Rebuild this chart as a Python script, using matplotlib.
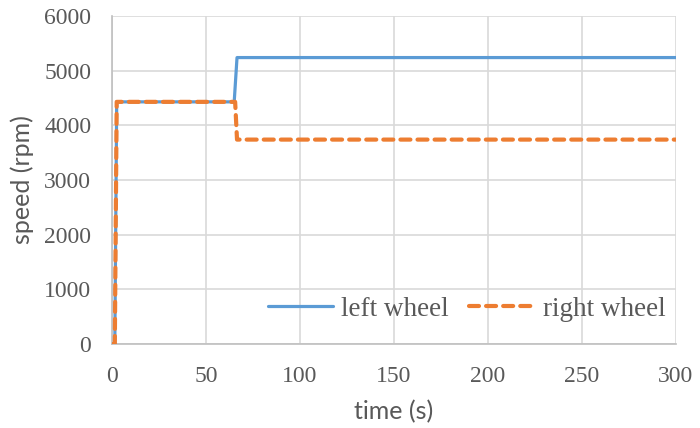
import matplotlib
matplotlib.use("Agg")
import matplotlib.pyplot as plt

# Wheel speed profiles (time in s, speed in rpm)
time_left = [0.5, 1.5, 2.5, 65.0, 66.5, 300.0]
speed_left = [0, 0, 4430, 4430, 5240, 5240]

time_right = [0.5, 1.5, 2.5, 65.5, 66.5, 300.0]
speed_right = [0, 0, 4430, 4430, 3740, 3740]

x_ticks = [0, 50, 100, 150, 200, 250, 300]
y_ticks = [0, 1000, 2000, 3000, 4000, 5000, 6000]

text_color = "#595959"
grid_color = "#D9D9D9"

fig = plt.figure(figsize=(7.0, 4.28), dpi=100)
ax = fig.add_axes([0.16, 0.196, 0.8057, 0.7666])

ax.plot(time_left, speed_left, color="#5B9BD5", linewidth=2.3,
        solid_capstyle="round", solid_joinstyle="round", label="left wheel", zorder=3)
ax.plot(time_right, speed_right, color="#ED7D31", linewidth=3.0,
        dashes=(2.4, 1.7), dash_capstyle="round", dash_joinstyle="round",
        label="right wheel", zorder=4)

ax.set_xlim(0, 300)
ax.set_ylim(0, 6000)
ax.set_xticks(x_ticks)
ax.set_yticks(y_ticks)
ax.grid(True, color=grid_color, linewidth=1.2, zorder=0)
ax.set_axisbelow(True)

for side in ("top", "right"):
    ax.spines[side].set_visible(False)
for side in ("left", "bottom"):
    ax.spines[side].set_color("#BFBFBF")
    ax.spines[side].set_linewidth(1.2)

ax.tick_params(axis="y", length=0, pad=15, labelcolor=text_color)
ax.tick_params(axis="x", length=0, pad=16, labelcolor=text_color)
for lab in ax.get_xticklabels() + ax.get_yticklabels():
    lab.set_fontfamily("Liberation Serif")
    lab.set_fontsize(17)

ax.set_xlabel("time (s)", fontfamily="Lato", fontsize=18, color=text_color, labelpad=9)
ax.set_ylabel("speed (rpm)", fontfamily="Lato", fontsize=18, color=text_color, labelpad=7)

leg = ax.legend(loc="lower right", bbox_to_anchor=(1.0, 0.035), ncol=2, frameon=False,
                prop={"family": "Liberation Serif", "size": 19.5},
                handlelength=2.4, handletextpad=0.3, columnspacing=0.75,
                labelcolor=text_color, borderaxespad=0.0)

fig.savefig("out.png", dpi=100)
